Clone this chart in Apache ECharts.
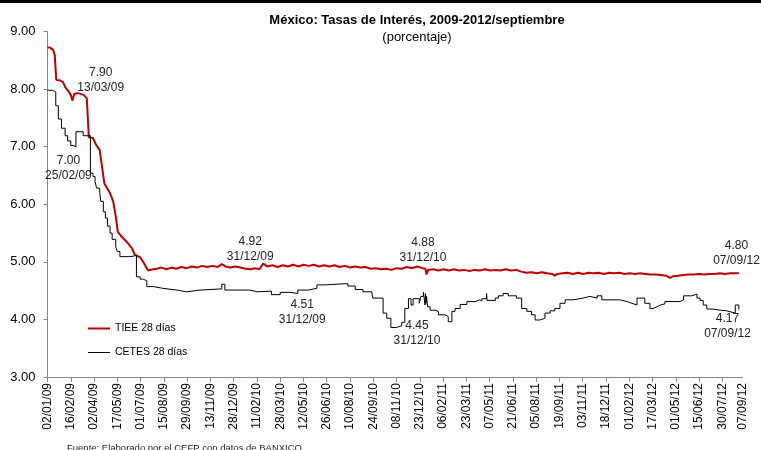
<!DOCTYPE html>
<html>
<head>
<meta charset="utf-8">
<script src="https://cdn.jsdelivr.net/npm/echarts@6/dist/echarts.min.js"></script>
<style>
  html, body { margin: 0; padding: 0; background: #fff; }
  #chart { width: 761px; height: 450px; }
</style>
</head>
<body>
<div id="chart"></div>
<script>
// etiquetas del eje x (cada 45 días + último dato)
const tickLabels = ['02/01/09', '16/02/09', '02/04/09', '17/05/09', '01/07/09', '15/08/09', '29/09/09',
  '13/11/09', '28/12/09', '11/02/10', '28/03/10', '12/05/10', '26/06/10', '10/08/10', '24/09/10',
  '08/11/10', '23/12/10', '06/02/11', '23/03/11', '07/05/11', '21/06/11', '05/08/11', '19/09/11',
  '03/11/11', '18/12/11', '01/02/12', '17/03/12', '01/05/12', '15/06/12', '30/07/12', '07/09/12'];

// TIEE 28 días
const tiee = [
  ['2009-01-02', 8.72], ['2009-01-07', 8.72], ['2009-01-13', 8.68], ['2009-01-16', 8.59], ['2009-01-19', 8.16],
  ['2009-01-26', 8.15], ['2009-02-01', 8.12], ['2009-02-05', 8.04], ['2009-02-11', 7.97], ['2009-02-16', 7.90],
  ['2009-02-19', 7.80], ['2009-02-23', 7.92], ['2009-03-02', 7.93], ['2009-03-13', 7.90], ['2009-03-19', 7.84],
  ['2009-03-23', 7.16], ['2009-03-31', 7.15], ['2009-04-06', 7.03], ['2009-04-13', 6.94], ['2009-04-22', 6.36],
  ['2009-05-03', 6.19], ['2009-05-09', 6.05], ['2009-05-14', 5.79], ['2009-05-18', 5.52], ['2009-05-26', 5.43],
  ['2009-06-04', 5.35], ['2009-06-14', 5.24], ['2009-06-20', 5.12], ['2009-06-30', 5.08], ['2009-07-06', 5.00],
  ['2009-07-13', 4.89], ['2009-07-16', 4.85], ['2009-07-25', 4.87], ['2009-08-01', 4.88], ['2009-08-10', 4.90],
  ['2009-08-20', 4.87], ['2009-08-30', 4.90], ['2009-09-08', 4.88], ['2009-09-18', 4.91], ['2009-09-28', 4.89],
  ['2009-10-08', 4.92], ['2009-10-18', 4.90], ['2009-10-28', 4.93], ['2009-11-07', 4.91], ['2009-11-17', 4.93],
  ['2009-11-27', 4.91], ['2009-12-05', 4.96], ['2009-12-12', 4.92], ['2009-12-22', 4.90], ['2009-12-31', 4.92],
  ['2010-01-10', 4.90], ['2010-01-20', 4.88], ['2010-01-30', 4.87], ['2010-02-08', 4.89], ['2010-02-16', 4.87],
  ['2010-02-23', 4.97], ['2010-03-03', 4.92], ['2010-03-13', 4.94], ['2010-03-23', 4.91], ['2010-04-02', 4.94],
  ['2010-04-12', 4.92], ['2010-04-22', 4.95], ['2010-05-02', 4.92], ['2010-05-12', 4.95], ['2010-05-22', 4.93],
  ['2010-06-01', 4.95], ['2010-06-11', 4.92], ['2010-06-21', 4.94], ['2010-07-01', 4.92], ['2010-07-11', 4.94],
  ['2010-07-21', 4.91], ['2010-07-31', 4.93], ['2010-08-10', 4.90], ['2010-08-20', 4.92], ['2010-08-30', 4.90],
  ['2010-09-09', 4.91], ['2010-09-19', 4.88], ['2010-09-29', 4.89], ['2010-10-09', 4.87], ['2010-10-19', 4.88],
  ['2010-10-29', 4.86], ['2010-11-08', 4.89], ['2010-11-18', 4.88], ['2010-11-28', 4.91], ['2010-12-08', 4.89],
  ['2010-12-18', 4.92], ['2010-12-28', 4.89], ['2011-01-03', 4.88], ['2011-01-05', 4.78], ['2011-01-08', 4.86],
  ['2011-01-18', 4.87], ['2011-01-28', 4.85], ['2011-02-07', 4.87], ['2011-02-17', 4.85], ['2011-02-27', 4.87],
  ['2011-03-09', 4.85], ['2011-03-19', 4.86], ['2011-03-29', 4.84], ['2011-04-08', 4.86], ['2011-04-18', 4.85],
  ['2011-04-28', 4.87], ['2011-05-08', 4.85], ['2011-05-18', 4.86], ['2011-05-28', 4.85], ['2011-06-07', 4.87],
  ['2011-06-17', 4.85], ['2011-06-27', 4.86], ['2011-07-07', 4.83], ['2011-07-17', 4.81], ['2011-07-27', 4.82],
  ['2011-08-06', 4.80], ['2011-08-16', 4.82], ['2011-08-26', 4.80], ['2011-09-05', 4.79], ['2011-09-10', 4.76],
  ['2011-09-15', 4.79], ['2011-09-25', 4.80], ['2011-10-05', 4.81], ['2011-10-15', 4.79], ['2011-10-25', 4.81],
  ['2011-11-04', 4.79], ['2011-11-14', 4.81], ['2011-11-24', 4.80], ['2011-12-04', 4.81], ['2011-12-14', 4.79],
  ['2011-12-24', 4.81], ['2012-01-03', 4.80], ['2012-01-13', 4.81], ['2012-01-23', 4.79], ['2012-02-02', 4.80],
  ['2012-02-12', 4.79], ['2012-02-22', 4.80], ['2012-03-03', 4.79], ['2012-03-13', 4.78], ['2012-03-23', 4.78],
  ['2012-04-02', 4.77], ['2012-04-12', 4.76], ['2012-04-20', 4.72], ['2012-04-26', 4.75], ['2012-05-06', 4.76],
  ['2012-05-16', 4.77], ['2012-05-26', 4.78], ['2012-06-05', 4.78], ['2012-06-15', 4.79], ['2012-06-25', 4.78],
  ['2012-07-05', 4.79], ['2012-07-15', 4.79], ['2012-07-25', 4.80], ['2012-08-04', 4.79], ['2012-08-14', 4.80],
  ['2012-08-24', 4.80], ['2012-08-31', 4.80]
];

// CETES 28 días (escalonado, subastas semanales)
const cetes = [
  ['2009-01-02', 7.98], ['2009-01-12', 7.95], ['2009-01-18', 7.71], ['2009-01-23', 7.48], ['2009-01-29', 7.32],
  ['2009-02-05', 7.19], ['2009-02-10', 7.10], ['2009-02-16', 7.02], ['2009-02-21', 7.00], ['2009-02-26', 7.26],
  ['2009-03-12', 7.19], ['2009-03-26', 6.54], ['2009-03-31', 6.48], ['2009-04-04', 6.39], ['2009-04-07', 6.28],
  ['2009-04-13', 6.20], ['2009-04-15', 6.05], ['2009-04-20', 5.87], ['2009-04-24', 5.76], ['2009-04-28', 5.62],
  ['2009-05-03', 5.50], ['2009-05-07', 5.39], ['2009-05-14', 5.26], ['2009-05-17', 5.18], ['2009-05-22', 5.09],
  ['2009-06-10', 5.10], ['2009-06-18', 5.12], ['2009-06-23', 4.74], ['2009-06-30', 4.70], ['2009-07-06', 4.67],
  ['2009-07-13', 4.57], ['2009-07-26', 4.54], ['2009-08-13', 4.51], ['2009-09-09', 4.48], ['2009-09-28', 4.51],
  ['2009-10-24', 4.53], ['2009-12-05', 4.61], ['2009-12-11', 4.51], ['2010-01-28', 4.48], ['2010-02-11', 4.49],
  ['2010-03-11', 4.43], ['2010-03-28', 4.47], ['2010-04-16', 4.45], ['2010-05-01', 4.51], ['2010-05-21', 4.54],
  ['2010-06-07', 4.60], ['2010-06-23', 4.62], ['2010-07-31', 4.62], ['2010-08-06', 4.58], ['2010-08-20', 4.52],
  ['2010-09-04', 4.48], ['2010-09-21', 4.45], ['2010-09-23', 4.37], ['2010-10-13', 4.11], ['2010-10-20', 4.02],
  ['2010-10-28', 3.86], ['2010-11-08', 3.89], ['2010-11-18', 3.95], ['2010-11-24', 4.19], ['2010-12-01', 4.36],
  ['2010-12-06', 4.25], ['2010-12-10', 4.36], ['2010-12-22', 4.28], ['2010-12-25', 4.40], ['2010-12-30', 4.47],
  ['2010-12-31', 4.45], ['2011-01-02', 4.25], ['2011-01-03', 4.45], ['2011-01-04', 4.28], ['2011-01-05', 4.40],
  ['2011-01-07', 4.22], ['2011-01-12', 4.16], ['2011-01-21', 4.14], ['2011-01-28', 4.08], ['2011-02-10', 4.05],
  ['2011-02-16', 3.96], ['2011-02-23', 4.14], ['2011-03-01', 4.19], ['2011-03-11', 4.26], ['2011-03-24', 4.31],
  ['2011-04-09', 4.34], ['2011-04-18', 4.32], ['2011-04-22', 4.36], ['2011-05-01', 4.45], ['2011-05-02', 4.33],
  ['2011-05-18', 4.37], ['2011-05-24', 4.41], ['2011-06-02', 4.45], ['2011-06-12', 4.41], ['2011-06-28', 4.37],
  ['2011-07-08', 4.19], ['2011-07-18', 4.14], ['2011-07-27', 4.08], ['2011-08-03', 3.99], ['2011-08-12', 4.02],
  ['2011-08-22', 4.11], ['2011-09-01', 4.15], ['2011-09-10', 4.19], ['2011-09-20', 4.28], ['2011-09-30', 4.34],
  ['2011-10-15', 4.37], ['2011-11-04', 4.40], ['2011-11-17', 4.37], ['2011-12-01', 4.41], ['2011-12-10', 4.34],
  ['2012-01-14', 4.31], ['2012-01-28', 4.28], ['2012-02-06', 4.25], ['2012-02-16', 4.37], ['2012-03-02', 4.28],
  ['2012-03-12', 4.19], ['2012-03-18', 4.22], ['2012-03-26', 4.25], ['2012-04-01', 4.27], ['2012-04-10', 4.31],
  ['2012-05-09', 4.34], ['2012-05-16', 4.41], ['2012-06-01', 4.44], ['2012-06-11', 4.37], ['2012-06-17', 4.33],
  ['2012-06-23', 4.25], ['2012-06-30', 4.18], ['2012-07-12', 4.16], ['2012-07-26', 4.15], ['2012-08-07', 4.17],
  ['2012-08-08', 4.12], ['2012-08-10', 4.11], ['2012-08-24', 4.25], ['2012-08-31', 4.17]
];

// valores señalados en la gráfica: [fecha, valor, texto de fecha]
const notasTIEE = [['2009-03-13', 7.90, '13/03/09'], ['2009-12-31', 4.92, '31/12/09'],
  ['2010-12-31', 4.88, '31/12/10'], ['2012-09-07', 4.80, '07/09/12']];
const notasCETES = [['2009-02-25', 7.00, '25/02/09'], ['2009-12-31', 4.51, '31/12/09'],
  ['2010-12-31', 4.45, '31/12/10'], ['2012-09-07', 4.17, '07/09/12']];
const offsetsTIEE = [[17, -15], [15, -17], [-1, -19], [-6, -20]];
const offsetsCETES = [[-7, 22], [67, 22], [-7, 40], [-15, 17]];

function toTime(lbl) {
  const p = lbl.split('/');
  return new Date(2000 + +p[2], +p[1] - 1, +p[0]).getTime();
}
function isoTime(s) {
  const p = s.split('-');
  return new Date(+p[0], +p[1] - 1, +p[2]).getTime();
}
function pad(n) { return n < 10 ? '0' + n : '' + n; }
function fmt(v) {
  const d = new Date(v);
  return pad(d.getDate()) + '/' + pad(d.getMonth() + 1) + '/' + pad(d.getFullYear() % 100);
}

const tickTimes = tickLabels.map(toTime);
const font = '"Liberation Sans", Arial, sans-serif';

function serie(list) {
  return list.map(p => [isoTime(p[0]), p[1]]);
}
function notas(list, offsets) {
  return list.map((n, i) => ({
    coord: [isoTime(n[0]), n[1]],
    label: { offset: offsets[i], formatter: n[1].toFixed(2) + '\n' + n[2] }
  }));
}

const chart = echarts.init(document.getElementById('chart'));
chart.setOption({
  animation: false,
  textStyle: { fontFamily: font },
  title: {
    text: 'México: Tasas de Interés, 2009-2012/septiembre',
    subtext: '(porcentaje)',
    left: 412,
    top: 9,
    textAlign: 'center',
    itemGap: 4,
    textStyle: { fontSize: 13, fontWeight: 'bold', color: '#000', fontFamily: font },
    subtextStyle: { fontSize: 13, color: '#000', fontFamily: font }
  },
  legend: {
    orient: 'vertical',
    left: 83,
    top: 318,
    itemWidth: 22,
    itemHeight: 14,
    itemGap: 13,
    textStyle: { fontSize: 10.5, color: '#000', fontFamily: font },
    data: [
      { name: 'TIEE 28 días', icon: 'path://M0,6H22V8H0Z' },
      { name: 'CETES 28 días', icon: 'path://M0,6.5H22V7.5H0Z' }
    ]
  },
  grid: { left: 47.5, right: 18.5, top: 31.5, bottom: 73 },
  xAxis: {
    type: 'value',
    min: tickTimes[0],
    max: tickTimes[tickTimes.length - 1],
    splitLine: { show: false },
    axisLine: { lineStyle: { color: '#868686' } },
    axisTick: { length: 5, lineStyle: { color: '#868686' }, customValues: tickTimes.slice(0, -1) },
    axisLabel: {
      rotate: 90,
      margin: 6,
      fontSize: 12,
      color: '#000',
      customValues: tickTimes,
      formatter: v => fmt(v)
    }
  },
  yAxis: {
    type: 'value',
    min: 3,
    max: 9,
    interval: 1,
    splitLine: { show: false },
    axisLine: { show: true, lineStyle: { color: '#868686' } },
    axisTick: { show: true, length: 4, lineStyle: { color: '#868686' } },
    axisLabel: { fontSize: 13, color: '#000', margin: 12, formatter: v => v.toFixed(2) }
  },
  series: [
    {
      name: 'TIEE 28 días',
      type: 'line',
      data: serie(tiee),
      showSymbol: false,
      symbol: 'none',
      lineStyle: { color: '#C00000', width: 2 },
      itemStyle: { color: '#C00000' },
      markPoint: {
        symbol: 'circle',
        symbolSize: 0,
        label: { show: true, color: '#222', fontSize: 12, lineHeight: 15, fontFamily: font },
        data: notas(notasTIEE, offsetsTIEE)
      }
    },
    {
      name: 'CETES 28 días',
      type: 'line',
      step: 'end',
      data: serie(cetes),
      showSymbol: false,
      symbol: 'none',
      lineStyle: { color: '#000', width: 1 },
      itemStyle: { color: '#000' },
      markPoint: {
        symbol: 'circle',
        symbolSize: 0,
        label: { show: true, color: '#222', fontSize: 12, lineHeight: 15, fontFamily: font },
        data: notas(notasCETES, offsetsCETES)
      }
    }
  ],
  graphic: [
    { type: 'rect', left: 0, top: 0, shape: { width: 761, height: 3 }, style: { fill: '#000' } },
    {
      type: 'text', left: 67, top: 443,
      style: { text: 'Fuente: Elaborado por el CEFP con datos de BANXICO.', fontSize: 9.5, fill: '#222', fontFamily: font }
    }
  ]
});
</script>
</body>
</html>
